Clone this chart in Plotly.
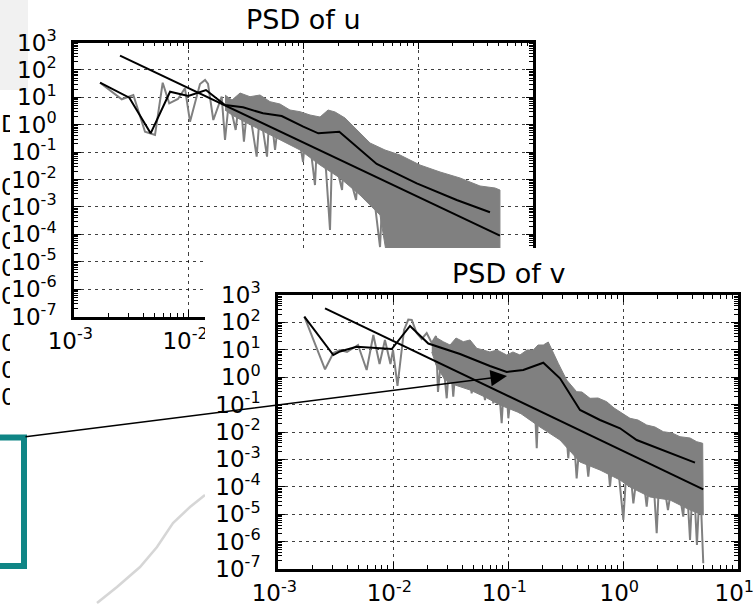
import plotly.graph_objects as go

W, H = 754, 606

# ---------------- data (log10 exponents) ----------------
# PSD of u : raw periodogram (sparse low-frequency part + spiky dense part)
u_raw_logf = [-2.773, -2.584, -2.483, -2.381, -2.294, -2.227, -2.170, -2.094, -2.033, -1.989,
              -1.902, -1.858, -1.832, -1.786, -1.713, -1.684, -1.649, -1.591, -1.553,
              -1.519, -1.484, -1.408, -1.379, -1.318, -1.292, -1.248, -1.205, -1.118, -1.074,
              -1.004, -0.970, -0.900, -0.874, -0.804, -0.769, -0.743, -0.699, -0.664, -0.630,
              -0.577, -0.542, -0.508, -0.464, -0.420, -0.377, -0.333, -0.298, -0.264]
u_raw_logpsd = [1.533, 0.927, 1.084, -0.255, -0.376, 1.533, 0.781, 0.938, 1.328, 0.109,
                1.485, 1.631, 1.485, 0.172, 1.022, -0.558, 0.901, -0.193, 1.157,
                -0.620, 0.901, -1.168, 0.536, -1.168, 0.719, -0.923, 0.609, -0.558, 0.464,
                -1.361, 0.245, -2.201, 0.099, -1.653, -3.843, 0.172, -1.763, -2.383, -0.011,
                -2.201, -2.748, -0.923, -2.748, -0.923, -2.931, -4.464, -1.288, -4.208]
# dense band of the periodogram: upper envelope (left->right) and base (right->left)
u_band_top_logf = [-1.684, -1.623, -1.553, -1.466, -1.379, -1.292, -1.205, -1.118, -1.030, -0.943,
                   -0.856, -0.786, -0.725, -0.638, -0.551, -0.420, -0.290, -0.159, 0.015, 0.190,
                   0.364, 0.538, 0.669, 0.712]
u_band_top_logpsd = [1.084, 0.900, 1.157, 1.022, 1.084, 0.840, 0.755, 0.536, 0.474, 0.354,
                     0.281, 0.536, 0.464, 0.245, -0.120, -0.668, -0.923, -1.106, -1.471, -1.726,
                     -1.945, -2.237, -2.310, -2.383]
u_band_base_logf = [0.712, -0.246, -0.333, -0.508, -0.682, -0.856, -1.030, -1.205, -1.379, -1.510,
                    -1.623, -1.684]
u_band_base_logpsd = [-5.5, -5.5, -3.300, -2.566, -1.945, -1.471, -0.923, -0.558, -0.193, 0.099,
                      0.354, 0.536]
# smoothed (bin-averaged) spectrum
u_bin_logf = [-2.773, -2.518, -2.332, -2.163, -2.004, -1.850, -1.684, -1.527, -1.353, -1.190,
              -1.002, -0.871, -0.688, -0.362, -0.013, 0.335, 0.625]
u_bin_logpsd = [1.533, 0.985, -0.314, 1.204, 1.047, 1.266, 0.719, 0.635, 0.416, 0.318,
                -0.073, -0.314, -0.255, -1.434, -2.139, -2.748, -3.197]
# power-law reference line
u_ref_logf = [-2.599, 0.712]
u_ref_logpsd = [2.518, -4.051]

# PSD of v
v_raw_logf = [-2.771, -2.591, -2.519, -2.461, -2.400, -2.304, -2.229, -2.171, -2.117, -2.070,
              -2.022, -2.000, -1.961, -1.904, -1.867, -1.837, -1.794, -1.750, -1.707, -1.663,
              -1.626, -1.609, -1.574, -1.533, -1.504, -1.476, -1.443, -1.417, -1.365, -1.316,
              -1.261, -1.200, -1.157, -1.128, -1.096, -1.055, -1.026, -0.997, -0.948, -0.896,
              -0.852, -0.809, -0.783, -0.750, -0.722, -0.620, -0.591, -0.548, -0.513, -0.476,
              -0.443, -0.403, -0.357, -0.302, -0.252, -0.200, -0.157, -0.113, -0.070, 0.003,
              0.043, 0.090, 0.148, 0.206, 0.252, 0.293, 0.322, 0.391, 0.452, 0.524,
              0.548, 0.583, 0.611, 0.643, 0.670, 0.698]
v_raw_logpsd = [2.208, 0.288, 0.883, 0.993, 0.920, 1.175, 0.263, 1.540, 0.482, 1.358,
                0.482, 0.993, -0.321, 1.723, 2.106, 2.088, 1.613, 1.394, 1.613, 1.248,
                1.504, -0.540, 0.993, -0.770, 0.920, -0.712, 0.993, -0.223, 0.920, -0.588,
                0.810, -0.832, 0.555, -0.953, 0.555, -1.682, 0.445, -1.500, 0.445, -1.318,
                0.445, -1.562, 0.445, -2.595, 0.628, -1.318, -0.102, -1.927, -0.832, -2.960,
                -1.197, -3.690, -1.380, -3.631, -1.562, -3.387, -1.927, -3.996, -2.109, -5.212,
                -2.474, -4.602, -2.657, -4.726, -2.839, -5.697, -3.022, -4.847, -3.204, -5.091,
                -3.387, -5.942, -3.387, -6.124, -3.752, -6.792]
v_band_top_logf = [-1.663, -1.617, -1.563, -1.504, -1.452, -1.389, -1.330, -1.272, -1.217, -1.157,
                   -1.096, -1.011, -0.957, -0.896, -0.835, -0.780, -0.739, -0.693, -0.650, -0.620,
                   -0.563, -0.490, -0.403, -0.357, -0.287, -0.217, -0.142, -0.078, -0.026, 0.061,
                   0.130, 0.206, 0.278, 0.350, 0.426, 0.496, 0.583, 0.641, 0.693]
v_band_top_logpsd = [1.237, 1.430, 1.296, 1.175, 1.430, 1.296, 1.358, 1.055, 0.993, 0.920,
                     0.993, 0.810, 0.920, 0.810, 0.993, 0.993, 1.175, 1.175, 1.285, 0.993,
                     0.507, -0.102, -0.529, -0.540, -0.770, -0.759, -0.894, -1.124, -1.259, -1.500,
                     -1.562, -1.745, -1.818, -1.989, -2.036, -2.172, -2.219, -2.354, -2.412]
v_band_base_logf = [0.698, 0.583, 0.409, 0.235, 0.061, -0.026, -0.200, -0.374, -0.548, -0.722,
                    -0.896, -1.070, -1.200, -1.330, -1.461, -1.548, -1.626, -1.663]
v_band_base_logpsd = [-5.029, -4.847, -4.482, -4.372, -4.007, -3.752, -3.387, -3.095, -2.292, -1.818,
                      -1.307, -1.015, -0.723, -0.467, -0.285, -0.102, 0.445, 0.920]
v_bin_logf = [-2.771, -2.519, -2.461, -2.316, -2.011, -1.852, -1.693, -1.417, -1.157, -1.011,
              -0.867, -0.693, -0.548, -0.374, -0.200, -0.026, 0.119, 0.380, 0.626]
v_bin_logpsd = [2.208, 0.810, 0.940, 1.113, 1.029, 1.869, 1.230, 0.847, 0.409, 0.190,
                0.263, 0.529, -0.040, -1.197, -1.562, -1.865, -2.292, -2.719, -3.120]
v_ref_logf = [-2.591, 0.698]
v_ref_logpsd = [2.515, -4.091]

x_tick_exp = [-3, -2, -1, 0, 1]
y_tick_exp = [-7, -6, -5, -4, -3, -2, -1, 0, 1, 2, 3]
titles = ["PSD of u", "PSD of v"]


def pw(exps):
    return [10.0 ** e for e in exps]


def px(x):
    return x / W


def py(y):
    return 1 - y / H


GREY = "#808080"
FONT = "DejaVu Sans"

fig = go.Figure()


def add_psd(raw_f, raw_p, top_f, top_p, base_f, base_p, bin_f, bin_p, ref_f, ref_p, xa, ya):
    fig.add_trace(go.Scatter(x=pw(top_f + base_f), y=pw(top_p + base_p), mode="lines",
                             fill="toself", fillcolor=GREY, line=dict(color=GREY, width=1),
                             xaxis=xa, yaxis=ya, hoverinfo="skip", showlegend=False))
    fig.add_trace(go.Scatter(x=pw(raw_f), y=pw(raw_p), mode="lines",
                             line=dict(color=GREY, width=2),
                             xaxis=xa, yaxis=ya, hoverinfo="skip", showlegend=False))
    fig.add_trace(go.Scatter(x=pw(bin_f), y=pw(bin_p), mode="lines",
                             line=dict(color="black", width=2),
                             xaxis=xa, yaxis=ya, hoverinfo="skip", showlegend=False))
    fig.add_trace(go.Scatter(x=pw(ref_f), y=pw(ref_p), mode="lines",
                             line=dict(color="black", width=2),
                             xaxis=xa, yaxis=ya, hoverinfo="skip", showlegend=False))


add_psd(u_raw_logf, u_raw_logpsd, u_band_top_logf, u_band_top_logpsd, u_band_base_logf,
        u_band_base_logpsd, u_bin_logf, u_bin_logpsd, u_ref_logf, u_ref_logpsd, "x", "y")
# white panel of the second figure (covers the lower right of the first one)
fig.add_trace(go.Scatter(x=[], y=[], xaxis="x2", yaxis="y2", hoverinfo="skip", showlegend=False))
add_psd(v_raw_logf, v_raw_logpsd, v_band_top_logf, v_band_top_logpsd, v_band_base_logf,
        v_band_base_logpsd, v_bin_logf, v_bin_logpsd, v_ref_logf, v_ref_logpsd, "x3", "y3")

common = dict(
    type="log", showline=True, linecolor="black", linewidth=2.5, mirror="ticks",
    ticks="inside", ticklen=7, tickwidth=1, tickcolor="black", automargin=False,
    ticklabeloverflow="allow",
    showgrid=True, gridcolor="rgba(0,0,0,0.75)", gridwidth=1, griddash="3px,4px",
    zeroline=False, tickfont=dict(family=FONT, size=23, color="black"),
    minor=dict(ticks="inside", ticklen=4, tickwidth=1, tickcolor="black", dtick="D1", showgrid=False),
    tickmode="array",
)


def fmt(e):
    return "10<sup>%s</sup>" % e


def xaxis(dom, anchor):
    d = dict(common)
    # trailing no-break space nudges the centred label slightly left, as in the original
    d.update(domain=dom, anchor=anchor, range=[-3, 1], tickvals=pw(x_tick_exp),
             ticktext=[fmt(e) + "\u00a0" for e in x_tick_exp], ticklabelstandoff=2)
    return d


def yaxis(dom, anchor):
    d = dict(common)
    d.update(domain=dom, anchor=anchor, range=[-7, 3], tickvals=pw(y_tick_exp),
             ticktext=[fmt(e) for e in y_tick_exp], ticklabelstandoff=10)
    return d


u_box = (74, 533, 42.5, 316.5)
v_box = (278, 738, 295, 569)
cover_box = (205, W, 248, H)

fig.update_layout(
    template="none",
    width=W, height=H, margin=dict(l=0, r=0, t=0, b=0, autoexpand=False),
    paper_bgcolor="white", plot_bgcolor="white", showlegend=False,
    xaxis=xaxis([px(u_box[0]), px(u_box[1])], "y"),
    yaxis=yaxis([py(u_box[3]), py(u_box[2])], "x"),
    xaxis2=dict(domain=[px(cover_box[0]), 1], anchor="y2", visible=False, range=[0, 1]),
    yaxis2=dict(domain=[0, py(cover_box[2])], anchor="x2", visible=False, range=[0, 1]),
    xaxis3=xaxis([px(v_box[0]), px(v_box[1])], "y3"),
    yaxis3=yaxis([py(v_box[3]), py(v_box[2])], "x3"),
)

# titles
for t, (x0, x1, y0, _), ty in zip(titles, [u_box, v_box], [20, 273]):
    fig.add_annotation(text=t, x=px((x0 + x1) / 2), y=py(ty), xref="paper", yref="paper",
                       showarrow=False, xanchor="center", yanchor="middle",
                       font=dict(family=FONT, size=27, color="black"))

# remnants of another figure behind (left edge)
fig.add_shape(type="rect", xref="paper", yref="paper", x0=0, x1=px(28), y0=py(90), y1=1,
              fillcolor="#f1f1f1", line=dict(width=0), layer="below")
for yy in [187, 214, 241, 268, 296, 343, 370, 397]:
    fig.add_annotation(text="0", x=0, y=py(yy), xref="paper", yref="paper", showarrow=False,
                       xanchor="left", yanchor="middle", width=9, align="left", borderpad=0,
                       font=dict(family=FONT, size=23, color="black"))
fig.add_annotation(text="D", x=0, y=py(124), xref="paper", yref="paper", showarrow=False,
                   xanchor="left", yanchor="middle", width=9, align="left", borderpad=0,
                   font=dict(family=FONT, size=23, color="black"))

# teal zoom box and connecting arrow
fig.add_shape(type="rect", xref="paper", yref="paper", x0=px(-20), x1=px(24), y0=py(566), y1=py(437.5),
              line=dict(color="#0f8585", width=6), layer="above")
curve_px = [(97, 603), (117, 587), (140, 567), (157, 547), (173, 523), (190, 507), (205, 495)]
path = "M " + " L ".join("%.5f %.5f" % (px(a), py(b)) for a, b in curve_px)
fig.add_shape(type="path", path=path, xref="paper", yref="paper",
              line=dict(color="#d6d6d6", width=2.5), layer="below")
tip = (507, 376)
tail = (24, 437)
fig.add_annotation(text="", x=px(tip[0]), y=py(tip[1]), xref="paper", yref="paper",
                   showarrow=True, ax=tail[0] - tip[0], ay=tail[1] - tip[1],
                   arrowhead=2, arrowsize=2.2, arrowwidth=1.5, arrowcolor="black",
                   font=dict(size=1))

fig.write_html("out.html")
